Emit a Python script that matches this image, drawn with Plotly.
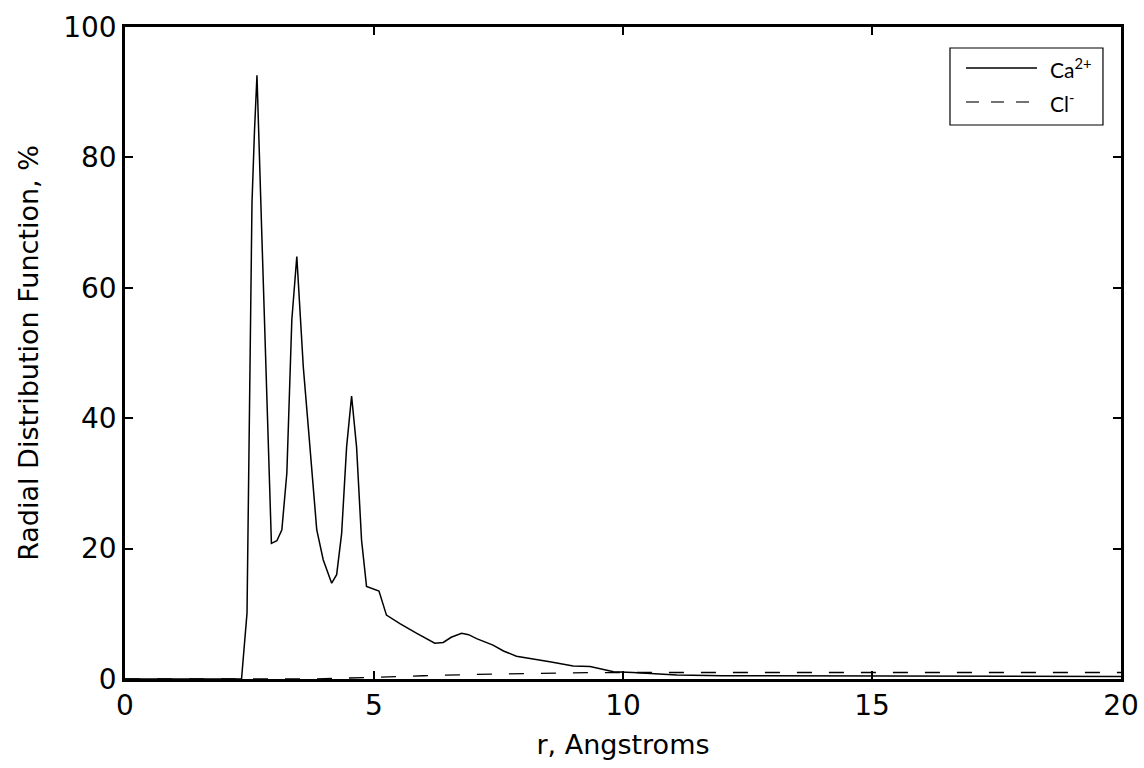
import plotly.graph_objects as go

# Ca2+ radial distribution function (r in Angstroms, value in %)
r_ca = [0, 2.34, 2.45, 2.55, 2.60, 2.65, 2.75, 2.85, 2.94, 3.05, 3.15, 3.25, 3.35, 3.45,
        3.58, 3.68, 3.85, 3.98, 4.15, 4.25, 4.35, 4.45, 4.55, 4.65, 4.75, 4.85, 5.02,
        5.10, 5.25, 5.52, 5.86, 6.05, 6.22, 6.39, 6.55, 6.76, 6.90, 7.06, 7.39, 7.60,
        7.86, 8.53, 9.00, 9.34, 9.81, 10.2, 11.08, 12, 14, 16, 18, 20]
g_ca = [0, 0, 10.1, 73.0, 84.0, 92.6, 67.5, 44.0, 20.8, 21.2, 22.9, 31.6, 55.1, 64.8,
        47.9, 38.7, 22.9, 18.3, 14.7, 16.0, 22.3, 35.6, 43.4, 35.6, 21.3, 14.2, 13.7,
        13.5, 9.8, 8.5, 7.0, 6.2, 5.5, 5.6, 6.4, 7.0, 6.8, 6.2, 5.2, 4.3,
        3.5, 2.65, 2.0, 1.9, 1.1, 1.0, 0.6, 0.5, 0.45, 0.4, 0.4, 0.4]

# Cl- radial distribution function
r_cl = [0, 3.8, 4.5, 5, 6, 7, 8, 9, 10, 11, 20]
g_cl = [0, 0, 0.15, 0.3, 0.5, 0.7, 0.85, 0.95, 1.0, 1.0, 1.0]

x_ticks = [0, 5, 10, 15, 20]
y_ticks = [0, 20, 40, 60, 80, 100]
series_names = ["Ca<sup>2+</sup>", "Cl<sup>-</sup>"]

CL_DASH = "15px,17px"

fig = go.Figure()
fig.add_trace(go.Scatter(x=r_ca, y=g_ca, mode="lines", name=series_names[0],
                         line=dict(color="black", width=1.5)))
fig.add_trace(go.Scatter(x=r_cl, y=g_cl, mode="lines", name=series_names[1],
                         line=dict(color="black", width=1.3, dash=CL_DASH)))

axis_common = dict(showgrid=False, zeroline=False, showline=True, linecolor="black",
                   linewidth=2.5, mirror="allticks", ticks="inside", ticklen=8,
                   tickwidth=1.5, tickcolor="black", automargin=False,
                   tickfont=dict(family="DejaVu Sans", size=28, color="black"))

fig.update_xaxes(range=[0, 20], tickvals=x_ticks,
                 title=dict(text="r, Angstroms", font=dict(family="DejaVu Sans", size=27, color="black"),
                            standoff=14),
                 **axis_common)
fig.update_yaxes(range=[0, 100], tickvals=y_ticks,
                 title=dict(text="Radial Distribution Function, %",
                            font=dict(family="DejaVu Sans", size=27, color="black"), standoff=17),
                 **axis_common)

# Legend drawn as a framed box in the upper right of the plot area (paper coords)
box = dict(x0=0.8283, x1=0.9819, y0=0.8497, y1=0.9678)
row_y = [0.9371, 0.8850]
line_x = [0.8444, 0.9157]
text_x = 0.9267
fig.add_shape(type="rect", xref="paper", yref="paper", **box,
              line=dict(color="black", width=1.2), fillcolor="white", layer="above")
fig.add_shape(type="line", xref="paper", yref="paper", x0=line_x[0], x1=line_x[1],
              y0=row_y[0], y1=row_y[0], line=dict(color="black", width=1.5), layer="above")
fig.add_shape(type="line", xref="paper", yref="paper", x0=line_x[0], x1=line_x[1],
              y0=row_y[1], y1=row_y[1], line=dict(color="#444", width=1.5, dash="13px,12px"),
              layer="above")
for name, yy in zip(series_names, row_y):
    fig.add_annotation(x=text_x, y=yy, xref="paper", yref="paper", text=name,
                       showarrow=False, xanchor="left", yanchor="middle",
                       font=dict(family="Lato", size=21, color="black"))

fig.update_layout(
    width=1144, height=768,
    margin=dict(l=125, r=23, t=27, b=89),
    plot_bgcolor="white", paper_bgcolor="white",
    showlegend=False,
)

# Remove the default 8px page margin so the figure fills the window exactly
fig.write_html("out.html", config={"displayModeBar": False},
               post_script="document.body.style.margin='0';document.body.style.overflow='hidden';")
